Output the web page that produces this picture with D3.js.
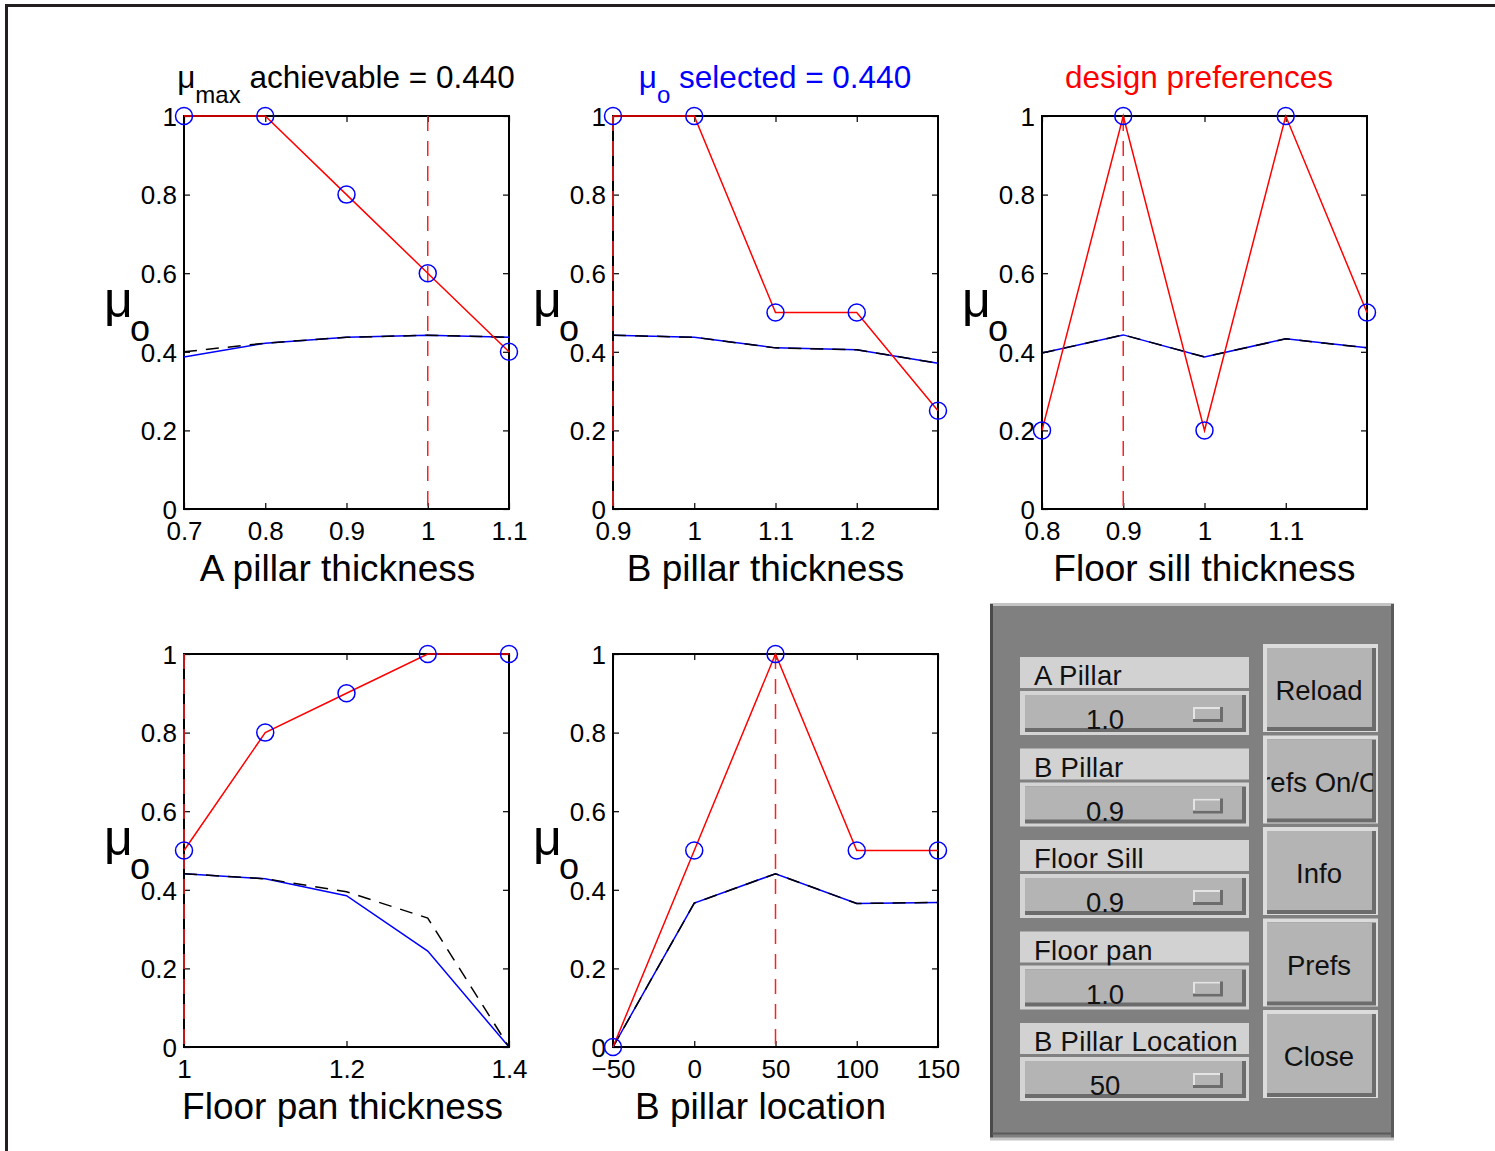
<!DOCTYPE html>
<html>
<head>
<meta charset="utf-8">
<script src="https://cdn.jsdelivr.net/npm/d3@7"></script>
<style>
  body { margin: 0; background: #fff; }
  svg text { font-family: "Liberation Sans", Arial, sans-serif; }
</style>
</head>
<body>
<div id="chart"></div>
<script>
// values
var aPillarX = [0.7, 0.8, 0.9, 1.0, 1.1];
var aPillarPref = [1, 1, 0.8, 0.6, 0.4];
var aPillarMu = [0.387, 0.422, 0.437, 0.442, 0.437];
var aPillarMuMax = [0.400, 0.422, 0.437, 0.442, 0.437];
var aPillarTicks = [0.7, 0.8, 0.9, 1, 1.1];

var bPillarX = [0.9, 1.0, 1.1, 1.2, 1.3];
var bPillarPref = [1, 1, 0.5, 0.5, 0.25];
var bPillarMu = [0.442, 0.437, 0.410, 0.405, 0.371];
var bPillarMuMax = [0.442, 0.437, 0.410, 0.405, 0.371];
var bPillarTicks = [0.9, 1, 1.1, 1.2];

var sillX = [0.8, 0.9, 1.0, 1.1, 1.2];
var sillPref = [0.2, 1, 0.2, 1, 0.5];
var sillMu = [0.397, 0.443, 0.387, 0.433, 0.410];
var sillMuMax = [0.397, 0.443, 0.387, 0.433, 0.410];
var sillTicks = [0.8, 0.9, 1, 1.1];

var panX = [1.0, 1.1, 1.2, 1.3, 1.4];
var panPref = [0.5, 0.8, 0.9, 1, 1];
var panMu = [0.441, 0.428, 0.385, 0.244, 0];
var panMuMax = [0.441, 0.428, 0.395, 0.328, 0];
var panTicks = [1, 1.2, 1.4];

var locX = [-50, 0, 50, 100, 150];
var locPref = [0, 0.5, 1, 0.5, 0.5];
var locMu = [0, 0.366, 0.441, 0.365, 0.368];
var locMuMax = [0, 0.366, 0.441, 0.365, 0.368];
var locTicks = [-50, 0, 50, 100, 150];

var yTicks = [0, 0.2, 0.4, 0.6, 0.8, 1];

var panelLabels = ['A Pillar', 'B Pillar', 'Floor Sill', 'Floor pan', 'B Pillar Location'];
var panelValues = ['1.0', '0.9', '0.9', '1.0', '50'];
var panelButtons = ['Reload', 'Prefs On/Off', 'Info', 'Prefs', 'Close'];

var plots = [
  { x: aPillarX, pref: aPillarPref, mu: aPillarMu, muMax: aPillarMuMax, ticks: aPillarTicks, sel: 1.0,
    label: 'A pillar thickness', left: 184, top: 116, labelDx: -9 },
  { x: bPillarX, pref: bPillarPref, mu: bPillarMu, muMax: bPillarMuMax, ticks: bPillarTicks, sel: 0.9,
    label: 'B pillar thickness', left: 613, top: 116, labelDx: -10 },
  { x: sillX, pref: sillPref, mu: sillMu, muMax: sillMuMax, ticks: sillTicks, sel: 0.9,
    label: 'Floor sill thickness', left: 1042, top: 116, labelDx: 0 },
  { x: panX, pref: panPref, mu: panMu, muMax: panMuMax, ticks: panTicks, sel: 1.0,
    label: 'Floor pan thickness', left: 184, top: 654, labelDx: -4 },
  { x: locX, pref: locPref, mu: locMu, muMax: locMuMax, ticks: locTicks, sel: 50,
    label: 'B pillar location', left: 613, top: 654, labelDx: -15 }
];

var W = 1495, H = 1151;
var pw = 325, ph = 393;

var svg = d3.select('#chart').append('svg')
    .attr('width', W)
    .attr('height', H);

// page frame (top and left only)
svg.append('path')
    .attr('d', 'M6.5,1151 L6.5,5.5 L1495,5.5')
    .attr('fill', 'none')
    .attr('stroke', '#231f20')
    .attr('stroke-width', 3);

plots.forEach(function(p) {
  var xs = d3.scaleLinear().domain([p.x[0], p.x[p.x.length - 1]]).range([0, pw]);
  var ys = d3.scaleLinear().domain([0, 1]).range([ph, 0]);
  var g = svg.append('g').attr('transform', 'translate(' + p.left + ',' + p.top + ')');

  var fmt = function(d) { return d < 0 ? '\u2212' + Math.abs(d) : String(d); };

  var xAxis = g.append('g').attr('transform', 'translate(0,' + ph + ')')
      .call(d3.axisBottom(xs).tickValues(p.ticks).tickSize(-6).tickPadding(13).tickFormat(fmt));
  var xTop = g.append('g')
      .call(d3.axisTop(xs).tickValues(p.ticks).tickSize(-6).tickFormat(''));
  var yAxis = g.append('g')
      .call(d3.axisLeft(ys).tickValues(yTicks).tickSize(-6).tickPadding(7).tickFormat(d3.format('')));
  var yRight = g.append('g').attr('transform', 'translate(' + pw + ',0)')
      .call(d3.axisRight(ys).tickValues(yTicks).tickSize(-6).tickFormat(''));

  [xAxis, xTop, yAxis, yRight].forEach(function(a) {
    a.select('.domain').remove();
    a.selectAll('line').attr('stroke', '#000').attr('stroke-width', 1.2);
    a.selectAll('text').attr('font-size', 26).attr('fill', '#000')
        .attr('font-family', '"Liberation Sans", Arial, sans-serif');
  });
  yAxis.selectAll('text').attr('dy', '0.36em');

  g.append('rect')
      .attr('width', pw).attr('height', ph)
      .attr('fill', 'none').attr('stroke', '#000').attr('stroke-width', 2);

  var line = d3.line()
      .x(function(d) { return xs(d[0]); })
      .y(function(d) { return ys(d[1]); });

  g.append('path')
      .attr('d', line(d3.zip(p.x, p.mu)))
      .attr('fill', 'none').attr('stroke', '#0000ff').attr('stroke-width', 1.5);
  g.append('path')
      .attr('d', line(d3.zip(p.x, p.muMax)))
      .attr('fill', 'none').attr('stroke', '#000').attr('stroke-width', 1.5)
      .attr('stroke-dasharray', '13,9');

  g.append('line')
      .attr('x1', xs(p.sel)).attr('x2', xs(p.sel))
      .attr('y1', 0).attr('y2', ph)
      .attr('stroke', '#ff2020').attr('stroke-width', 1.5)
      .attr('stroke-dasharray', '15,10');

  g.append('path')
      .attr('d', line(d3.zip(p.x, p.pref)))
      .attr('fill', 'none').attr('stroke', '#ff0000').attr('stroke-width', 1.5);

  g.selectAll('circle').data(d3.zip(p.x, p.pref)).enter()
      .append('circle')
      .attr('cx', function(d) { return xs(d[0]); })
      .attr('cy', function(d) { return ys(d[1]); })
      .attr('r', 8.5)
      .attr('fill', 'none').attr('stroke', '#0000ff').attr('stroke-width', 1.5);

  // x label
  g.append('text')
      .attr('x', pw / 2 + p.labelDx).attr('y', 465)
      .attr('text-anchor', 'middle').attr('font-size', 37)
      .text(p.label);

  // y label
  g.append('text').attr('x', -80).attr('y', ph / 2 + 4)
      .attr('font-size', 50).text('\u03bc');
  g.append('text').attr('x', -54).attr('y', ph / 2 + 28)
      .attr('font-size', 36).text('o');
});

// titles
var t1 = svg.append('text').attr('x', 346).attr('y', 88)
    .attr('text-anchor', 'middle').attr('font-size', 31.5).attr('fill', '#000');
t1.append('tspan').text('\u03bc');
t1.append('tspan').attr('font-size', 24).attr('dy', 15).text('max');
t1.append('tspan').attr('dy', -15).text(' achievable = 0.440');

var t2 = svg.append('text').attr('x', 775).attr('y', 88)
    .attr('text-anchor', 'middle').attr('font-size', 31.5).attr('fill', '#0000ff');
t2.append('tspan').text('\u03bc');
t2.append('tspan').attr('font-size', 24).attr('dy', 15).text('o');
t2.append('tspan').attr('dy', -15).text(' selected = 0.440');

svg.append('text').attr('x', 1199).attr('y', 88)
    .attr('text-anchor', 'middle').attr('font-size', 31.5).attr('fill', '#ff0000')
    .text('design preferences');

// control panel
var panel = svg.append('g');
panel.append('rect').attr('x', 990).attr('y', 603).attr('width', 404).attr('height', 537)
    .attr('fill', '#808080');
panel.append('path').attr('d', 'M990,604.5 L1394,604.5').attr('stroke', '#c4c4c4').attr('stroke-width', 3);
panel.append('path').attr('d', 'M991.5,604 L991.5,1140').attr('stroke', '#4a4a4a').attr('stroke-width', 3);
panel.append('path').attr('d', 'M1392.5,604 L1392.5,1140').attr('stroke', '#5a5a5a').attr('stroke-width', 3);
panel.append('path').attr('d', 'M992,1133.5 L1394,1133.5').attr('stroke', '#5a5a5a').attr('stroke-width', 2);
panel.append('path').attr('d', 'M990,1139 L1394,1139').attr('stroke', '#c4c4c4').attr('stroke-width', 3);

var rowStep = 91.5;
var rows = panel.selectAll('g.row').data(d3.zip(panelLabels, panelValues)).enter()
    .append('g').attr('class', 'row')
    .attr('transform', function(d, i) { return 'translate(1020,' + (657 + i * rowStep) + ')'; });

rows.append('rect').attr('width', 229).attr('height', 31).attr('fill', '#d2d2d2');
rows.append('text').attr('x', 14).attr('y', 28).attr('font-size', 27.5).attr('fill', '#111')
    .attr('letter-spacing', 0.3)
    .text(function(d) { return d[0]; });

rows.append('rect').attr('y', 34).attr('width', 229).attr('height', 44).attr('fill', '#d4d4d4');
rows.append('rect').attr('x', 5).attr('y', 38).attr('width', 221).attr('height', 37).attr('fill', '#6c6c6c');
rows.append('rect').attr('x', 5).attr('y', 38).attr('width', 217).attr('height', 33).attr('fill', '#b4b4b4');
rows.append('text').attr('x', 85).attr('y', 72).attr('text-anchor', 'middle')
    .attr('font-size', 27.5).attr('fill', '#111')
    .text(function(d) { return d[1]; });
rows.append('rect').attr('x', 173).attr('y', 50).attr('width', 30).attr('height', 15).attr('fill', '#6c6c6c');
rows.append('rect').attr('x', 173).attr('y', 50).attr('width', 27).attr('height', 12).attr('fill', '#e4e4e4');
rows.append('rect').attr('x', 175).attr('y', 52).attr('width', 25).attr('height', 10).attr('fill', '#b4b4b4');

var btns = panel.selectAll('g.btn').data(panelButtons).enter()
    .append('g').attr('class', 'btn')
    .attr('transform', function(d, i) { return 'translate(1263,' + (644 + i * rowStep) + ')'; });

btns.append('clipPath').attr('id', function(d, i) { return 'bclip' + i; })
    .append('rect').attr('x', 4).attr('y', 4).attr('width', 106).attr('height', 80);
btns.append('rect').attr('width', 115).attr('height', 88).attr('fill', '#dcdcdc');
btns.append('rect').attr('x', 4).attr('y', 4).attr('width', 109).attr('height', 83).attr('fill', '#6c6c6c');
btns.append('rect').attr('x', 4).attr('y', 4).attr('width', 105).attr('height', 79).attr('fill', '#b4b4b4');
btns.append('text').attr('x', 56).attr('y', 56).attr('text-anchor', 'middle')
    .attr('font-size', 27.5).attr('fill', '#111')
    .attr('clip-path', function(d, i) { return 'url(#bclip' + i + ')'; })
    .text(function(d) { return d; });
</script>
</body>
</html>
